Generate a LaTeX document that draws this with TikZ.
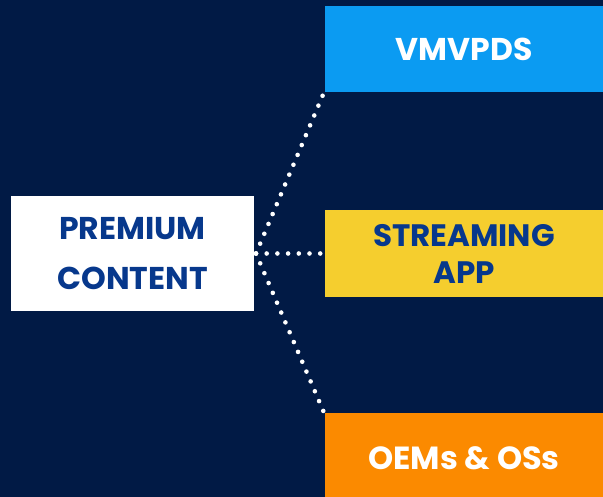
\documentclass[tikz,border=0pt]{standalone}
\usepackage{fontspec}
\setmainfont{Poppins}
\definecolor{navy}{HTML}{011A45}
\definecolor{vblue}{HTML}{0B9BF2}
\definecolor{vyellow}{HTML}{F5CE2E}
\definecolor{vorange}{HTML}{FB8A00}
\definecolor{tblue}{HTML}{07388C}
\begin{document}
\begin{tikzpicture}[x=1pt,y=-1pt,
  boxs/.style={inner sep=0pt, outer sep=0pt, align=center, font=\bfseries},
  dots/.style={draw=white, line width=4.6pt, line cap=round, dash pattern=on 0pt off 10.7pt}]
\fill[navy] (0,0) rectangle (603,497);
\useasboundingbox (0,0) rectangle (603,497);
\node[boxs, fill=white, minimum width=243pt, minimum height=115pt, text=tblue,
  font=\bfseries\fontsize{31.5}{50}\selectfont] (pc) at (132.5,253.5) {PREMIUM\\CONTENT};
\node[boxs, fill=vblue, minimum width=278pt, minimum height=86pt, text=white,
  font=\bfseries\fontsize{31.5}{40}\selectfont] (vm) at (464,49) {VMVPDS};
\node[boxs, fill=vyellow, minimum width=278pt, minimum height=87pt, text=tblue,
  font=\bfseries\fontsize{31}{37}\selectfont] (sa) at (464,253.5) {STREAMING\\APP};
\node[boxs, fill=vorange, minimum width=278pt, minimum height=90pt, text=white,
  font=\bfseries\fontsize{32}{36}\selectfont] (oe) at (464,458) {OEMs \& OSs};
\draw[dots] ([xshift=2pt]pc.east) -- ([yshift=2pt]vm.south west);
\draw[dots] ([xshift=2pt]pc.east) -- (sa.west);
\draw[dots] ([xshift=2pt]pc.east) -- ([yshift=-2pt]oe.north west);
\end{tikzpicture}
\end{document}
